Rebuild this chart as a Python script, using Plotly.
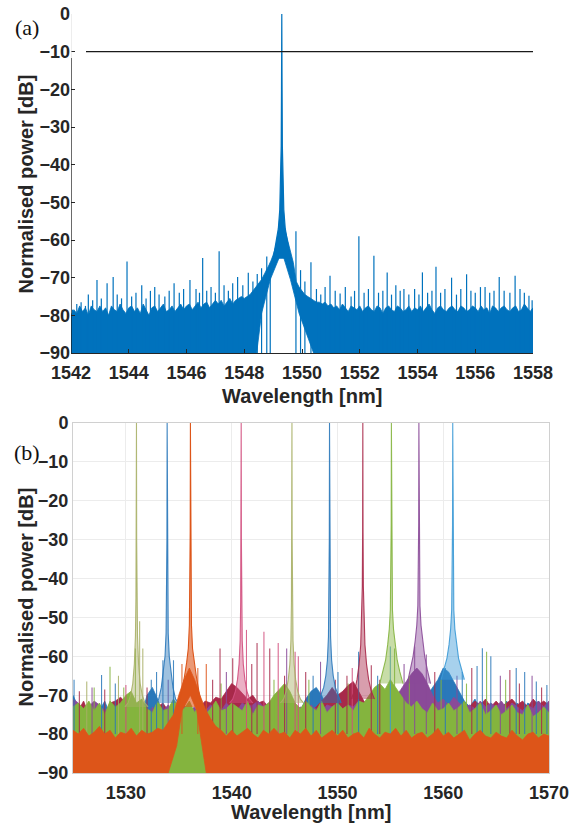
import numpy as np
import plotly.graph_objects as go

# ======================= panel (a) data =======================
a_xticks = [1542, 1544, 1546, 1548, 1550, 1552, 1554, 1556, 1558]
a_yticks = [0, -10, -20, -30, -40, -50, -60, -70, -80, -90]
a_ref_level = -10
a_ref_start = 1542.52

# sample wavelengths of the noise envelope: 1542.0 ... 1558.0 every 0.1 nm
a_wl = [round(1542.0 + 0.1 * i, 2) for i in range(161)]
a_top = [
    -80, -78.5, -79.5, -77.5, -79, -78, -80, -77.5, -78.5, -79,
    -77.5, -79, -78, -80, -77.5, -78.5, -79, -77, -78.5, -79.5,
    -78, -77.5, -79, -78, -79.5, -77, -78.5, -80, -78, -77.5,
    -79, -78, -77, -79, -78.5, -77.5, -79, -78, -77, -78.5,
    -77.5, -77, -78.5, -77.5, -76.5, -78, -77, -76.5, -78, -77,
    -76, -77, -76, -77.5, -76.5, -75.5, -77, -76, -75.5, -75,
    -75.5, -75, -74.5, -73.5, -72.5, -71.5, -70.5, -69, -67.5, -66,
    -64, -61.5, -58, -56, -57, -60, -63.5, -66, -71, -72.5,
    -73.5, -74.5, -75, -75.5, -76, -76.5, -76.5, -77, -76.5, -77.5,
    -77, -78, -77.5, -78.5, -77, -78, -79, -77.5, -78, -78.5,
    -77.5, -79, -78, -77.5, -78.5, -79, -77.5, -78, -79.5, -78,
    -77.5, -78.5, -79, -77.5, -78, -79, -78.5, -77.5, -79, -78,
    -78.5, -77.5, -79, -78, -77, -78.5, -79.5, -78, -77.5, -78.5,
    -79, -78, -77.5, -78.5, -79, -77.5, -78, -79, -78.5, -77.5,
    -78, -79, -77.5, -78.5, -78, -79.5, -77.5, -78, -79, -78,
    -77.5, -78.5, -79, -78, -77.5, -79, -78.5, -77, -78, -79,
    -78,
]
# lower boundary of the noise (gap below the laser line), right -> left
a_floor_wl = [1558.0, 1550.4, 1550.15, 1549.9, 1549.6, 1549.3, 1548.9, 1548.6, 1548.43, 1542.0]
a_floor_db = [-90, -90, -85, -79.5, -70.5, -63, -70.5, -79.5, -90, -90]

# laser line
a_peak_center = 1549.3
a_peak_off = [-0.3, -0.2, -0.12, -0.07, -0.04, -0.02, -0.01, 0, 0.01, 0.02, 0.04, 0.07, 0.12, 0.2, 0.3]
a_peak_db = [-65, -61, -57, -52, -45, -35, -20, 0, -20, -35, -45, -52, -57, -61, -65]

# isolated noise spikes
a_spike_wl = [1542.05, 1542.2, 1542.35, 1542.5, 1542.6, 1542.75, 1542.9, 1543.05, 1543.25, 1543.46,
              1543.6, 1543.75, 1543.94, 1544.1, 1544.25, 1544.45, 1544.6, 1544.75, 1544.9, 1545.05,
              1545.25, 1545.4, 1545.57, 1545.75, 1545.9, 1546.12, 1546.33, 1546.45, 1546.56, 1546.7,
              1546.85, 1547.0, 1547.13, 1547.3, 1547.45, 1547.6, 1547.77, 1547.95, 1548.14, 1548.3,
              1548.45, 1548.6, 1548.78, 1548.9,
              1549.79, 1549.95, 1550.1, 1550.31, 1550.5, 1550.65, 1550.8, 1550.97, 1551.15, 1551.32,
              1551.5, 1551.7, 1551.82, 1551.97, 1552.15, 1552.3, 1552.49, 1552.65, 1552.8, 1552.95,
              1553.1, 1553.25, 1553.4, 1553.53, 1553.7, 1553.9, 1554.05, 1554.17, 1554.35, 1554.5,
              1554.64, 1554.8, 1554.95, 1555.18, 1555.35, 1555.5, 1555.7, 1555.85, 1556.0, 1556.18,
              1556.34, 1556.5, 1556.65, 1556.83, 1557.0, 1557.2, 1557.38, 1557.55, 1557.7, 1557.86,
              1557.97]
a_spike_db = [-78.5, -77, -76.5, -77.5, -74.5, -76, -70.6, -75.5, -71.5, -69.8,
              -74.5, -75.5, -65.7, -75, -74, -72, -75.5, -73.5, -72.5, -74.5,
              -75, -73.5, -71.5, -74, -73, -70.6, -73, -74, -64.8, -73.5,
              -72.5, -74, -63, -72, -73.5, -71.5, -69.8, -72, -68.7, -71,
              -69, -67.5, -64.4, -66,
              -57.7, -68, -71, -65.9, -73, -74.5, -72.5, -69.5, -73.5, -74.2,
              -72.5, -75, -73.5, -59, -74, -73, -64.2, -74, -73.5, -68.6,
              -74.5, -72, -73.5, -73, -74.5, -73, -74.5, -68.6, -74, -73.5,
              -67.1, -74, -73, -70, -74.5, -73, -69.1, -73.5, -74, -72.5,
              -72.5, -74, -73.5, -69.8, -73.5, -74, -69.5, -73, -74, -74.8,
              -76]

# ======================= panel (b) data =======================
b_xticks = [1530, 1540, 1550, 1560, 1570]
b_yticks = [0, -10, -20, -30, -40, -50, -60, -70, -80, -90]

# noise-envelope sample wavelengths: 1525.0 ... 1570.0 every 0.5 nm
b_wl = [round(1525.0 + 0.5 * i, 2) for i in range(91)]
b_blue_top = [
    -70, -73, -75, -72, -76, -74, -71.5, -75, -73, -76,
    -74, -75, -72, -75, -70, -68, -71, -75, -74, -76,
    -73, -75, -76, -74, -76, -75, -73, -76, -75, -74,
    -76, -75, -73.5, -76, -74, -72.5, -75, -76, -74, -75,
    -73, -75, -72.5, -74, -71, -69, -68, -70, -73, -75,
    -74, -76, -73, -75, -72.5, -76, -74, -75, -73, -75,
    -74, -72, -75, -76, -73, -74.5, -72, -70, -68, -66,
    -63, -64, -66.5, -69, -71.5, -73, -71, -74, -72, -75,
    -72.5, -74, -71.5, -75, -72, -74.5, -72, -73, -71.5, -73,
    -72,
]
b_red_top = [
    -72, -74, -71.5, -75, -72.5, -74, -75, -72, -71.5, -70.5,
    -72, -75, -73.5, -72, -74, -75, -73, -72, -74, -72.5,
    -75, -74, -72.5, -75, -73, -71.5, -72, -70.5, -71, -69,
    -67, -68, -69.5, -71, -70, -72, -71.5, -73, -72, -74,
    -72.5, -74, -73, -75, -72, -74, -73, -71.5, -70, -68,
    -70, -69, -67.5, -66.5, -69, -71.5, -73, -72, -74, -73.5,
    -75, -73, -74.5, -72, -74, -73, -72.5, -74, -73, -72,
    -74, -73, -75, -72.5, -74, -73, -71.5, -72.5, -71, -73,
    -71.5, -73, -72, -71, -72.5, -71.5, -73, -71, -72.5, -71.5,
    -72.5,
]
b_purple_top = [
    -71, -72, -74, -73, -71.5, -72.5, -74, -73, -75, -72,
    -73.5, -74, -75, -73, -74.5, -73, -75, -74, -72.5, -75,
    -74, -72.5, -74, -73, -75, -74, -72.5, -73.5, -74, -72,
    -73.5, -74, -72, -73, -72.5, -71.5, -73, -72, -73.5, -71,
    -74, -72.5, -74, -73, -74.5, -72.5, -73.5, -74.5, -72.5, -73,
    -72, -74, -72.5, -73, -71.5, -73, -72, -71, -69.5, -70,
    -72, -70.5, -68.5, -66.5, -64.5, -63, -64.5, -67, -70, -72,
    -71, -72.5, -70.5, -72, -73, -72.5, -73.5, -71.5, -73, -72,
    -73, -71.5, -73.5, -72, -73, -74, -72.5, -73.5, -71.5, -73,
    -71.5,
]
b_green_top = [
    -73, -72, -73.5, -71.5, -74, -72, -75, -71.5, -73, -72,
    -70, -69, -72, -71, -73.5, -74.5, -71.5, -74, -73.5, -71,
    -73, -73.5, -71.5, -74.5, -72, -75, -73.5, -71.5, -74, -73.5,
    -72, -73, -74, -71.5, -75, -72.5, -73, -72, -70, -68.5,
    -67, -69, -72, -73.5, -71.5, -73, -74, -71.5, -74.5, -73,
    -72, -73.5, -72.5, -74, -71.5, -72, -70, -68, -67, -68.5,
    -66, -68, -70, -72, -73, -71.5, -73.5, -74.5, -72, -74,
    -73.5, -72, -74, -73, -71.5, -74.5, -73.5, -72, -75, -74,
    -72.5, -75, -74, -72.5, -74.5, -75, -72.5, -75.5, -74.5, -73,
    -74.5,
]
b_orange_top = [
    -79, -80, -78.5, -80.5, -79.5, -78, -80, -79, -81, -79.5,
    -80, -78.5, -80.5, -79, -80, -79.5, -78.5, -79, -77, -75,
    -70, -66, -63, -66, -70, -73.5, -76, -78, -79, -80.5,
    -79, -80.5, -79.5, -78.5, -80, -81, -79, -80, -78.5, -80,
    -79.5, -81, -79, -80, -78.5, -80.5, -79, -81, -80, -79,
    -80.5, -79, -81, -80, -79.5, -81, -78.5, -80, -81, -79.5,
    -80, -78.5, -80.5, -79, -81, -80, -79.5, -81, -80, -78.5,
    -80.5, -79.5, -81, -80, -79, -81.5, -80, -79, -80.5, -81,
    -79.5, -80.5, -81, -79, -80.5, -81.5, -80, -79.5, -81, -80,
    -80.5,
]
b_orange_floor_wl = [1570.0, 1537.6, 1537.2, 1536.7, 1536.1, 1535.3, 1534.8, 1534.0, 1525.0]
b_orange_floor_db = [-90, -90, -83, -74, -70, -74, -83, -90, -90]

# laser lines (centre wavelength, colour) and their skirts
b_peak_wl = [1531.0, 1533.9, 1536.1, 1540.9, 1545.7, 1549.25, 1552.4, 1555.1, 1557.7, 1560.9]
b_peak_col = ['olive', 'blue', 'orange', 'pink', 'olive', 'blue', 'red', 'green', 'purple', 'sky']
b_skirt_off = [0, 0.02, 0.05, 0.1, 0.2, 0.35, 0.55, 0.8, 1.1]
b_skirt_db = [
    [0, -30, -45, -55, -62, -67, -70, -72, -73],
    [0, -30, -45, -54, -60, -64, -68, -71, -72],
    [0, -28, -42, -52, -58, -61.5, -65, -69, -73],
    [0, -30, -46, -56, -62, -66, -69, -71, -72],
    [0, -30, -46, -56, -62, -66, -69, -71, -72],
    [0, -30, -45, -55, -61, -65, -68, -70, -72],
    [0, -28, -42, -50, -57, -62, -66, -69, -71],
    [0, -26, -40, -48, -53, -57, -61, -64, -67],
    [0, -26, -40, -47, -52, -56, -60, -63.5, -67],
    [0, -26, -40, -48, -53, -57, -60.5, -63, -66],
]

# isolated noise spikes
b_spike_wl = [1525.1, 1526.3, 1527.0, 1527.7, 1528.5, 1529.3, 1530.0, 1530.9, 1531.3, 1531.6,
              1532.4, 1532.9, 1533.5, 1534.5, 1535.3, 1536.8, 1537.6, 1538.2, 1538.9, 1539.5,
              1540.1, 1541.4, 1541.9, 1542.4, 1543.05, 1543.6, 1544.4, 1545.2, 1546.0, 1546.3,
              1547.0, 1547.7, 1548.4, 1550.05, 1550.9, 1551.4, 1552.0, 1553.2, 1553.8, 1555.0,
              1555.4, 1556.3, 1557.3, 1558.4, 1559.2, 1560.2, 1561.8, 1562.7, 1563.2, 1563.7,
              1564.1, 1564.5, 1565.4, 1566.3, 1566.9, 1567.7, 1568.4, 1568.8, 1569.8,
              1525.6, 1526.8, 1528.0, 1529.0, 1529.8, 1532.0, 1534.0, 1539.0, 1544.0, 1545.0,
              1547.3, 1549.8, 1551.0, 1554.0, 1556.8, 1559.8, 1561.3, 1562.2, 1565.9, 1567.2,
              1569.3]
b_spike_db = [-66, -66.5, -68, -64.8, -62.7, -65, -67.4, -58, -51, -58,
              -66, -64, -61, -61, -62, -63, -62, -66, -58, -64,
              -60.5, -53.2, -62, -56.6, -53.7, -58, -56.6, -58, -58.8, -60,
              -64, -65, -61.4, -64, -65, -63, -58.8, -62.3, -65, -57.5,
              -58, -62, -57.5, -59.5, -64, -63, -64, -63, -62.5, -57.9,
              -58.8, -60, -65, -63.5, -63, -64, -65, -66.5, -67.4,
              -69, -68, -68.5, -67, -68, -68, -66, -67, -66, -65,
              -66, -66, -67, -66, -65, -66, -65, -67, -66, -67,
              -68]
b_spike_col = ['blue', 'olive', 'green', 'blue', 'green', 'olive', 'pink', 'green', 'olive', 'olive',
               'blue', 'blue', 'blue', 'blue', 'orange', 'orange', 'orange', 'red', 'red', 'purple',
               'red', 'pink', 'red', 'red', 'pink', 'red', 'pink', 'purple', 'pink', 'pink',
               'red', 'blue', 'purple', 'blue', 'red', 'pink', 'blue', 'red', 'blue', 'sky',
               'green', 'purple', 'purple', 'purple', 'red', 'blue', 'blue', 'red', 'blue', 'blue',
               'green', 'blue', 'purple', 'red', 'blue', 'blue', 'purple', 'blue', 'blue',
               'red', 'purple', 'red', 'blue', 'green', 'red', 'purple', 'green', 'green', 'red',
               'green', 'red', 'green', 'red', 'green', 'green', 'purple', 'green', 'green', 'red',
               'red']

# ======================= styling =======================
W, H = 582, 831
A_BLUE = '#0072BD'
PAL = {
    'blue': '#2a78ba', 'orange': '#DD5519', 'green': '#84b43e', 'purple': '#8a4a98',
    'red': '#a8294a', 'pink': '#d24f7e', 'olive': '#a9b067', 'sky': '#3c9ad6',
}
TXT = '#262626'
FONT = 'Liberation Sans, Arial, sans-serif'


def rgba(hexcol, a):
    h = hexcol.lstrip('#')
    return 'rgba(%d,%d,%d,%.2f)' % (int(h[0:2], 16), int(h[2:4], 16), int(h[4:6], 16), a)


def px_x(p):
    return p / W


def px_y(p):
    return 1 - p / H


fig = go.Figure()

# ---------- panel (a) traces ----------
fig.add_trace(go.Scatter(
    x=a_wl + a_floor_wl, y=a_top + a_floor_db, fill='toself', fillcolor=A_BLUE,
    mode='lines', line=dict(color=A_BLUE, width=0.8), xaxis='x', yaxis='y', hoverinfo='skip'))
sx, sy = [], []
for w, d in zip(a_spike_wl, a_spike_db):
    sx += [w, w, None]
    sy += [-90, d, None]
fig.add_trace(go.Scatter(x=sx, y=sy, mode='lines', line=dict(color=A_BLUE, width=1.2),
                         xaxis='x', yaxis='y', hoverinfo='skip'))
fig.add_trace(go.Scatter(
    x=[a_peak_center + o for o in a_peak_off], y=a_peak_db, fill='toself', fillcolor=A_BLUE,
    mode='lines', line=dict(color=A_BLUE, width=1.2), xaxis='x', yaxis='y', hoverinfo='skip'))

# ---------- panel (b) traces ----------
for top, col in [(b_blue_top, 'blue'), (b_red_top, 'red'), (b_purple_top, 'purple'), (b_green_top, 'green')]:
    fig.add_trace(go.Scatter(
        x=b_wl + [1570.0, 1525.0], y=top + [-90, -90], fill='toself', fillcolor=PAL[col],
        mode='lines', line=dict(color=PAL[col], width=0.8), xaxis='x2', yaxis='y2', hoverinfo='skip'))

for col in PAL:
    sx, sy = [], []
    for w, d, c in zip(b_spike_wl, b_spike_db, b_spike_col):
        if c == col:
            sx += [w, w, None]
            sy += [-80, d, None]
    if sx:
        fig.add_trace(go.Scatter(x=sx, y=sy, mode='lines', line=dict(color=PAL[col], width=1.1),
                                 opacity=0.85, xaxis='x2', yaxis='y2', hoverinfo='skip'))


def skirt(center, prof):
    xs = [center - o for o in reversed(b_skirt_off[1:])] + [center + o for o in b_skirt_off]
    ys = list(reversed(prof[1:])) + list(prof)
    return xs, ys


for c, col, prof in zip(b_peak_wl, b_peak_col, b_skirt_db):
    if col == 'orange':
        continue
    xs, ys = skirt(c, prof)
    fig.add_trace(go.Scatter(x=xs, y=ys, fill='toself', fillcolor=rgba(PAL[col], 0.45), mode='lines',
                             line=dict(color=rgba(PAL[col], 0.9), width=1.1),
                             xaxis='x2', yaxis='y2', hoverinfo='skip'))

fig.add_trace(go.Scatter(
    x=b_wl + b_orange_floor_wl, y=b_orange_top + b_orange_floor_db, fill='toself',
    fillcolor=PAL['orange'], mode='lines', line=dict(color=PAL['orange'], width=0.8),
    xaxis='x2', yaxis='y2', hoverinfo='skip'))
for c, col, prof in zip(b_peak_wl, b_peak_col, b_skirt_db):
    if col != 'orange':
        continue
    xs, ys = skirt(c, prof)
    fig.add_trace(go.Scatter(x=xs, y=ys, fill='toself', fillcolor=rgba(PAL[col], 0.6), mode='lines',
                             line=dict(color=PAL[col], width=1.1), xaxis='x2', yaxis='y2',
                             hoverinfo='skip'))

# ---------- layout ----------
tickfont = dict(family=FONT, size=18, color=TXT, weight='bold')
fig.update_layout(
    width=W, height=H, margin=dict(l=0, r=0, t=0, b=0, pad=0, autoexpand=False),
    paper_bgcolor='white', plot_bgcolor='white', showlegend=False,
    xaxis=dict(domain=[px_x(71), px_x(533)], anchor='y', range=[1542, 1558], automargin=False,
               tickvals=a_xticks, ticks='inside', ticklen=4, tickcolor=TXT, ticklabelstandoff=3,
               showline=True, linecolor=TXT, linewidth=1, showgrid=False, zeroline=False,
               tickfont=tickfont),
    yaxis=dict(domain=[px_y(353), px_y(14)], anchor='x', range=[-90, 0], automargin=False,
               tickvals=a_yticks, ticks='inside', ticklen=4, tickcolor=TXT,
               showline=False, showgrid=False, zeroline=False, tickfont=tickfont),
    xaxis2=dict(domain=[px_x(73), px_x(549)], anchor='y2', range=[1525, 1570], automargin=False,
                tickvals=b_xticks, ticks='', showline=True, mirror=True, linecolor='#d0d0d0',
                ticklabelstandoff=3,
                showgrid=True, gridcolor='#ececec', zeroline=False, tickfont=tickfont),
    yaxis2=dict(domain=[px_y(773), px_y(423)], anchor='x2', range=[-90, 0], automargin=False,
                tickvals=b_yticks, ticks='', showline=True, mirror=True, linecolor='#d0d0d0',
                showgrid=True, gridcolor='#ececec', zeroline=False, tickfont=tickfont),
)

# reference level line and partial axis of panel (a)
fig.add_shape(type='line', xref='x', yref='y', x0=a_ref_start, x1=1558, y0=a_ref_level, y1=a_ref_level,
              line=dict(color='#1a1a1a', width=1.3))
fig.add_shape(type='line', xref='x', yref='y', x0=1542, x1=1542, y0=-11.7, y1=-90,
              line=dict(color='#1a1a1a', width=1.3))
fig.add_shape(type='line', xref='x', yref='y', x0=1542, x1=1542, y0=0, y1=-11.7,
              line=dict(color='#dcdcdc', width=1))

titlefont = dict(family=FONT, size=20, color=TXT, weight='bold')
ann = [
    dict(text='Normalised power [dB]', x=px_x(25), y=px_y(184.5), textangle=-90),
    dict(text='Wavelength [nm]', x=px_x(302), y=px_y(396)),
    dict(text='Normalised power [dB]', x=px_x(25.5), y=px_y(597), textangle=-90),
    dict(text='Wavelength [nm]', x=px_x(311), y=px_y(812)),
]
for a in ann:
    fig.add_annotation(xref='paper', yref='paper', showarrow=False, xanchor='center',
                       yanchor='middle', font=titlefont, **a)
for lab, yy in [('(a)', 28), ('(b)', 452)]:
    fig.add_annotation(text=lab, xref='paper', yref='paper', x=px_x(27), y=px_y(yy),
                       showarrow=False, xanchor='center', yanchor='middle',
                       font=dict(family='Liberation Serif, Times New Roman, serif', size=22, color='#111111'))

fig.write_html('out.html')
